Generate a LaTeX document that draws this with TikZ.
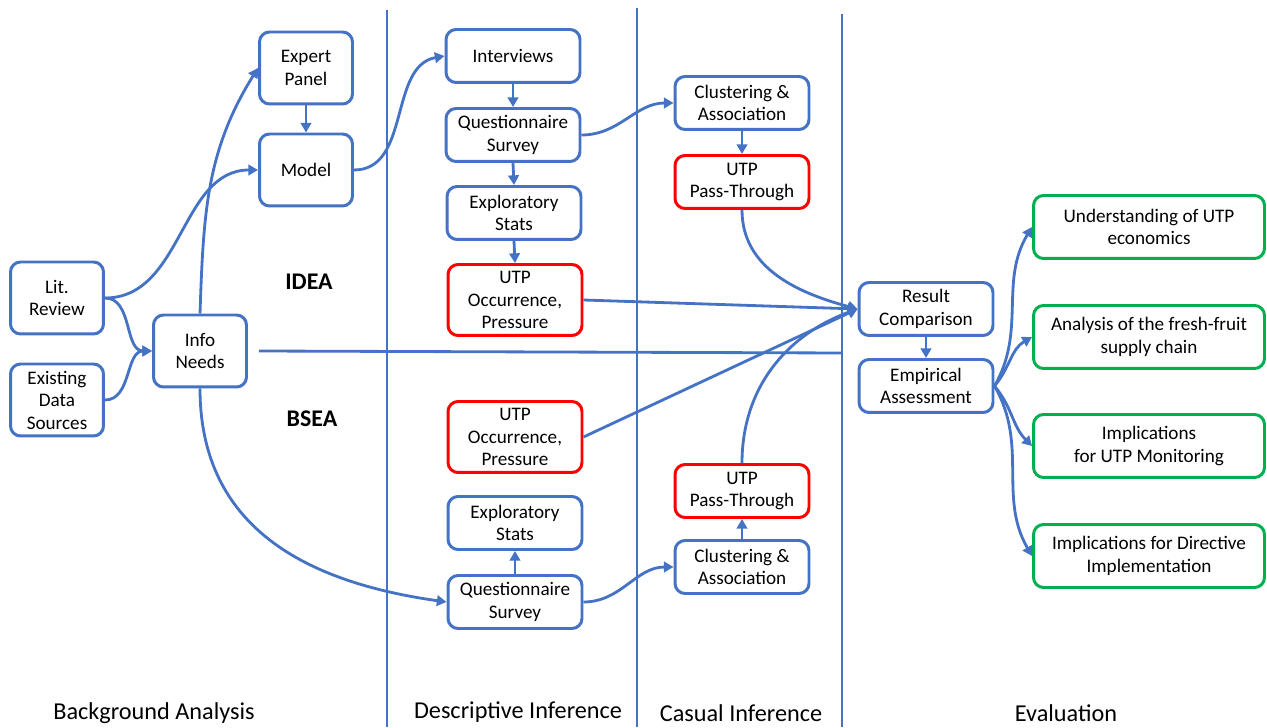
\documentclass[tikz,border=0pt]{standalone}
\usepackage{fontspec}
\setmainfont{Carlito}
\usetikzlibrary{arrows.meta,positioning,calc}
\definecolor{Flow}{HTML}{4472C4}
\definecolor{Hot}{HTML}{FF0000}
\definecolor{Leaf}{HTML}{00B050}

\begin{document}
\begin{tikzpicture}[x=0.02cm,y=0.02cm,every node/.style={font=\fontsize{10.9}{12.8}\selectfont, align=center, inner sep=1pt},
    bluebox/.style={draw=Flow,line width=1.7pt,rounded corners=0.2cm,fill=white},
    redbox/.style={draw=Hot,line width=1.7pt,rounded corners=0.2cm,fill=white},
    greenbox/.style={draw=Leaf,line width=1.7pt,rounded corners=0.2cm,fill=white,minimum width=4.62cm,minimum height=1.26cm},
    sq/.style={minimum width=1.86cm,minimum height=1.44cm},
    mid/.style={minimum width=2.68cm,minimum height=1.06cm},
    tall/.style={minimum width=2.68cm,minimum height=1.42cm},
    lnk/.style={-{Triangle[length=5.5pt,width=6pt]},line width=1.6pt,Flow},
    divider/.style={line width=1.4pt,Flow},
    stagelabel/.style={font=\fontsize{13.8}{15}\selectfont},
    armlabel/.style={font=\fontsize{13.6}{15}\selectfont\bfseries}]
  \useasboundingbox (0,0) rectangle (1267,727);

  % column dividers
  \draw[divider] (387,717) -- (387,0);
  \draw[divider] (637,719) -- (637,0);
  \draw[divider] (842,713) -- (842,0);

  % background analysis
  \node[bluebox,sq] (expert) at (306,659) {Expert\\Panel};
  \node[bluebox,sq] (model) at (306,557) {Model};
  \node[bluebox,sq] (lit) at (57,429) {Lit.\\Review};
  \node[bluebox,sq] (exist) at (57,327) {Existing\\Data\\Sources};
  \node[bluebox,sq] (info) at (200,376) {Info\\Needs};
  \node[armlabel] (idea) at (309,445) {IDEA};
  \node[armlabel] (bsea) at (312,308) {BSEA};

  % descriptive inference
  \node[bluebox,mid] (intv) at (513,671) {Interviews};
  \node[bluebox,mid] (qsa) at (513,592) {Questionnaire\\Survey};
  \node[bluebox,mid] (esa) at (514,514) {Exploratory\\Stats};
  \node[redbox,tall] (occa) at (515,427) {UTP\\Occurrence,\\Pressure};
  \node[redbox,tall] (occb) at (515,290) {UTP\\Occurrence,\\Pressure};
  \node[bluebox,mid] (esb) at (515,204) {Exploratory\\Stats};
  \node[bluebox,mid] (qsb) at (515,125) {Questionnaire\\Survey};

  % casual inference
  \node[bluebox,mid] (clua) at (742,624) {Clustering \&\\Association};
  \node[redbox,mid] (pta) at (742,545) {UTP\\Pass-Through};
  \node[redbox,mid] (ptb) at (742,236) {UTP\\Pass-Through};
  \node[bluebox,mid] (club) at (742,160) {Clustering \&\\Association};

  % evaluation
  \node[bluebox,mid] (res) at (926,418) {Result\\Comparison};
  \node[bluebox,mid] (emp) at (926,341) {Empirical\\Assessment};
  \node[greenbox] (und) at (1149,500) {Understanding of UTP\\economics};
  \node[greenbox] (ana) at (1149,390) {Analysis of the fresh-fruit\\supply chain};
  \node[greenbox] (mon) at (1149,281) {Implications\\for UTP Monitoring};
  \node[greenbox] (dir) at (1149,171) {Implications for Directive\\Implementation};

  % stage names
  \node[stagelabel] (bg) at (154,14) {Background Analysis};
  \node[stagelabel] (desc) at (518,15) {Descriptive Inference};
  \node[stagelabel] (cause) at (741,14) {Casual Inference};
  \node[stagelabel] (evalu) at (1066,14) {Evaluation};

  \coordinate (hend) at (842,374);

  \foreach \x/\y in {expert/model,intv/qsa,qsa/esa,esa/occa,clua/pta,res/emp}
    \draw[lnk] (\x.south) -- (\y.north);
  \foreach \x/\y in {qsb/esb,club/ptb}
    \draw[lnk] (\x.north) -- (\y.south);

  \draw[lnk] (lit.east) to[out=0,in=180] (model.west);
  \draw[lnk] (lit.east) to[out=0,in=180] (info.west);
  \draw[lnk] (exist.east) to[out=0,in=180] (info.west);
  \draw[lnk] (info.north) to[out=88,in=238] (expert.west);
  \draw[lnk] (info.south) to[out=-90,in=172,looseness=1.1] (qsb.west);
  \draw[line width=1.6pt,Flow] ([xshift=0.22cm]info.east) -- (hend);
  \draw[lnk] (model.east) to[out=0,in=190] (intv.west);
  \draw[lnk] (qsa.east) to[out=0,in=180] (clua.west);
  \draw[lnk] (qsb.east) to[out=0,in=180] (club.west);
  \draw[lnk] (occa.east) -- (res.west);
  \draw[lnk] (occb.east) -- (res.west);
  \draw[lnk] (pta.south) to[out=-90,in=165] (res.west);
  \draw[lnk] (ptb.north) to[out=90,in=200] (res.west);

  \draw[lnk] (emp.east) to[out=60,in=239] (und.west);
  \draw[lnk] (emp.east) to[out=50,in=210] (ana.west);
  \draw[lnk] (emp.east) to[out=-50,in=135] (mon.west);
  \draw[lnk] (emp.east) to[out=-60,in=120] (dir.west);
\end{tikzpicture}
\end{document}
